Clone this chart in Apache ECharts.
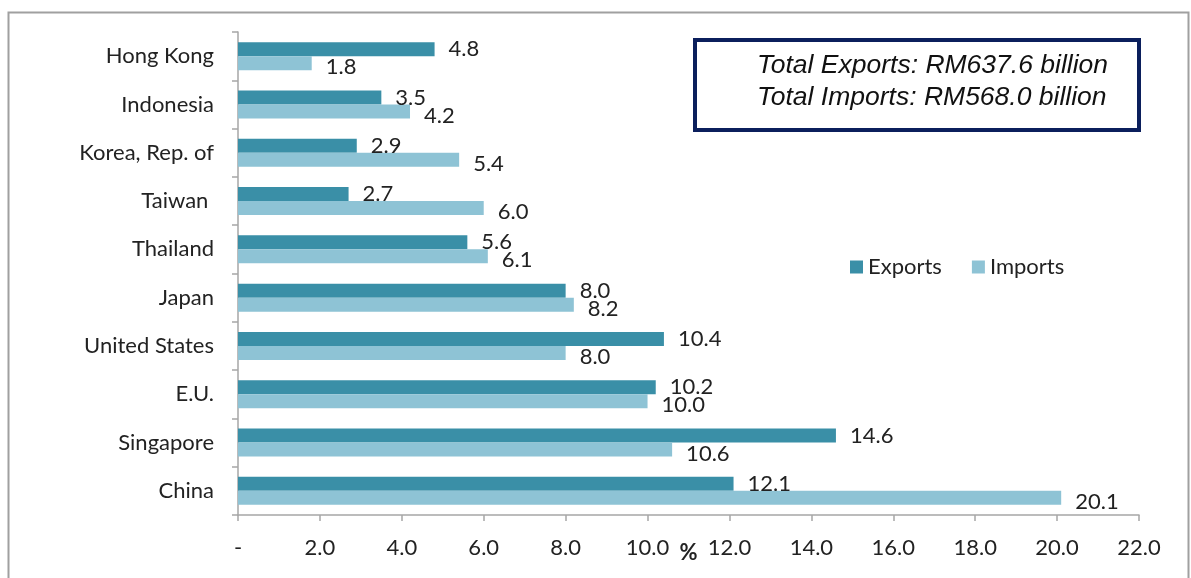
<!DOCTYPE html>
<html>
<head>
<meta charset="utf-8">
<script src="https://cdn.jsdelivr.net/npm/echarts@6/dist/echarts.min.js"></script>
<style>
html,body{margin:0;padding:0;background:#fff;}
#chart{width:1191px;height:578px;}
</style>
</head>
<body>
<div id="chart"></div>
<script>
var categories = ['Hong Kong', 'Indonesia', 'Korea, Rep. of', 'Taiwan ', 'Thailand', 'Japan', 'United States', 'E.U.', 'Singapore', 'China'];
var exportsData = [4.8, 3.5, 2.9, 2.7, 5.6, 8.0, 10.4, 10.2, 14.6, 12.1];
var importsData = [1.8, 4.2, 5.4, 6.0, 6.1, 8.2, 8.0, 10.0, 10.6, 20.1];
var xTickLabels = ['-', '2.0', '4.0', '6.0', '8.0', '10.0', '12.0', '14.0', '16.0', '18.0', '20.0', '22.0'];
var boxLines = ['Total Exports: RM637.6 billion', 'Total Imports: RM568.0 billion'];

var FONT = 'Lato';
var chart = echarts.init(document.getElementById('chart'));
chart.setOption({
  backgroundColor: '#fff',
  animation: false,
  grid: { left: 238, right: 52, top: 32, bottom: 63, containLabel: false, outerBoundsMode: 'none' },
  legend: {
    left: 845, top: 251,
    itemWidth: 13, itemHeight: 13, itemGap: 30,
    icon: 'rect',
    textStyle: { fontFamily: FONT, fontSize: 22, color: '#222' },
    data: ['Exports', 'Imports']
  },
  xAxis: {
    type: 'value', min: 0, max: 22, interval: 2,
    name: '%', nameLocation: 'middle', nameGap: 27, nameMoveOverlap: false,
    nameTextStyle: { fontFamily: FONT, fontSize: 22, color: '#222', fontWeight: 'bold', verticalAlign: 'top' },
    axisLine: { show: true, lineStyle: { color: '#a6a6a6', width: 1.5 } },
    axisTick: { show: true, length: 6, lineStyle: { color: '#a6a6a6', width: 1.5 } },
    splitLine: { show: false },
    axisLabel: {
      margin: 22, fontFamily: FONT, fontSize: 22, color: '#222',
      formatter: function (v) { return xTickLabels[Math.round(v / 2)]; }
    }
  },
  yAxis: {
    type: 'category', data: categories, inverse: true,
    axisLine: { show: true, lineStyle: { color: '#a6a6a6', width: 1.5 } },
    axisTick: { show: true, length: 6, lineStyle: { color: '#a6a6a6', width: 1.5 } },
    axisLabel: { margin: 24, fontFamily: FONT, fontSize: 22, color: '#222' }
  },
  series: [
    {
      name: 'Exports', type: 'bar', data: exportsData,
      barGap: '0%', barCategoryGap: '42%',
      itemStyle: { color: '#3a8fa7' },
      label: {
        show: true, position: 'right', distance: 14,
        fontFamily: FONT, fontSize: 22, color: '#222',
        formatter: function (p) { return p.value.toFixed(1); }
      }
    },
    {
      name: 'Imports', type: 'bar', data: importsData,
      barGap: '0%', barCategoryGap: '42%',
      itemStyle: { color: '#8ec3d5' },
      label: {
        show: true, position: 'right', distance: 14, offset: [0, 4],
        fontFamily: FONT, fontSize: 22, color: '#222',
        formatter: function (p) { return p.value.toFixed(1); }
      }
    }
  ],
  graphic: [
    {
      type: 'rect', left: 6, top: 10, silent: true,
      shape: { width: 1180, height: 600 },
      style: { fill: 'none', stroke: '#a0a0a0', lineWidth: 2 }
    },
    {
      type: 'rect', left: 693, top: 38, silent: true,
      shape: { width: 444, height: 90 },
      style: { fill: '#fff', stroke: '#0b1f5c', lineWidth: 4 }
    },
    {
      type: 'text', left: 757, top: 50, silent: true,
      style: {
        text: boxLines.join('\n'), fontFamily: 'Liberation Sans', fontStyle: 'italic',
        fontSize: 26.5, lineHeight: 32, fill: '#111', align: 'left'
      }
    }
  ]
});
</script>
</body>
</html>
